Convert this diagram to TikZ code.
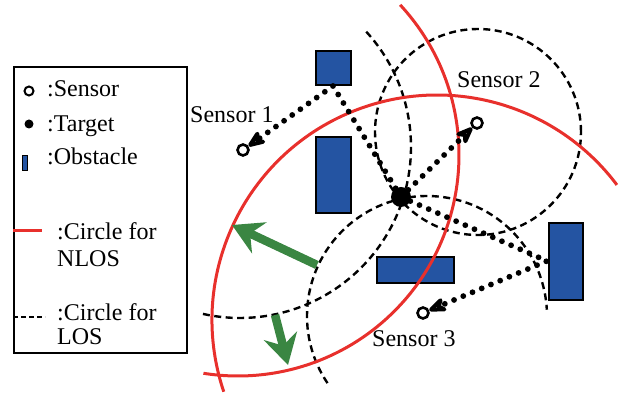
\documentclass[tikz,border=0pt]{standalone}
\usepackage{fontspec}
\setmainfont{Liberation Serif}
\usetikzlibrary{arrows.meta}
\definecolor{obstblue}{RGB}{36,84,162}
\definecolor{nlosred}{RGB}{232,48,44}
\definecolor{movegreen}{RGB}{58,134,66}

\begin{document}
\begin{tikzpicture}[x=1pt,y=1pt]
            \tikzstyle{sensor}=[circle, draw, line width=2.6pt, fill=white, inner sep=0pt, minimum size=11pt]
            \tikzstyle{target}=[circle, fill=black, inner sep=0pt, minimum size=20pt]
            \tikzstyle{obstacle}=[draw=black, line width=1.1pt, fill=obstblue]
            \tikzstyle{nlos}=[nlosred, line width=3pt]
            \tikzstyle{los}=[black, line width=2.4pt, dash pattern=on 7pt off 4.5pt]
            \tikzstyle{ray}=[line width=5.8pt, line cap=round, dash pattern=on 0pt off 10pt, -{Stealth[open, round, length=24pt, width=19pt, line width=4pt]}]
            \tikzstyle{move}=[movegreen, line width=8.5pt, -{Stealth[length=30pt, width=34pt, inset=10pt]}]
            \tikzstyle{txt}=[anchor=base west, inner sep=0pt, font=\fontsize{24}{27}\selectfont]

            \useasboundingbox (0,0) rectangle (625,396);

            % obstacles
            \draw[obstacle] (316,311) rectangle (351,345);
            \draw[obstacle] (316,183) rectangle (351,259);
            \draw[obstacle] (377,113) rectangle (454,139);
            \draw[obstacle] (549,96) rectangle (583,173);

            % circle centres
            \coordinate (c1los) at (240,249);
            \coordinate (c2los) at (478,264);
            \coordinate (c3los) at (427,80);
            \coordinate (c1nlos) at (238,241);
            \coordinate (c3nlos) at (437,76);

            % circles for LOS
            \draw[los] (c2los) circle[radius=103];
            \draw[los] (c1los) ++(42.4:171) arc[start angle=42.4, end angle=-103.6, radius=171];
            \draw[los] (c3los) ++(214:120) arc[start angle=214, end angle=3, radius=120];

            % circles for NLOS
            \draw[nlos] (c1nlos) ++(42.8:221) arc[start angle=42.8, end angle=-99, radius=221];
            \draw[nlos] (c3nlos) ++(198.6:225) arc[start angle=198.6, end angle=36.9, radius=225];

            % moving directions
            \coordinate (g1a) at (317,131);
            \coordinate (g1b) at (232,171);
            \coordinate (g2a) at (275,81);
            \coordinate (g2b) at (288,31);
            \draw[move] (g1a) -- (g1b);
            \draw[move] (g2a) -- (g2b);

            % sensors and target
            \node[target] (tg) at (401,199) {};
            \node[sensor] (s1) at (243,246) {};
            \node[sensor] (s2) at (477,273) {};
            \node[sensor] (s3) at (423,83) {};

            % reflection points
            \coordinate (r1) at (333,310);
            \coordinate (r3) at (547,135);

            % signal paths
            \draw[ray] (tg) -- (r1) -- (s1);
            \draw[ray] (tg) -- (s2);
            \draw[ray] (tg) -- (r3) -- (s3);

            % sensor names
            \node[txt] (n1) at (190,273) {Sensor 1};
            \node[txt] (n2) at (457,308) {Sensor 2};
            \node[txt] (n3) at (372,49) {Sensor 3};

            % legend
            \draw[line width=1.4pt] (14,43) rectangle (187,329);
            \node[sensor, line width=2pt, minimum size=9pt] (keysensor) at (29,305) {};
            \node[target, minimum size=9pt] (keytarget) at (29,272) {};
            \draw[obstacle, line width=0.9pt] (22,226) rectangle (27,241);
            \coordinate (keynlosa) at (13,165);
            \coordinate (keynlosb) at (42,165);
            \draw[nlos] (keynlosa) -- (keynlosb);
            \coordinate (keylosa) at (13,79);
            \coordinate (keylosb) at (45,79);
            \draw[los, dash pattern=on 5pt off 3pt] (keylosa) -- (keylosb);
            \node[txt] (lsensor) at (47,299) {:Sensor};
            \node[txt] (ltarget) at (47,264) {:Target};
            \node[txt] (lobstacle) at (47,231) {:Obstacle};
            \node[txt] (lnlos) at (57,156) {:Circle for};
            \node[txt] (lnlosb) at (57,129) {NLOS};
            \node[txt] (llos) at (57,75) {:Circle for};
            \node[txt] (llosb) at (57,51) {LOS};
\end{tikzpicture}
\end{document}
